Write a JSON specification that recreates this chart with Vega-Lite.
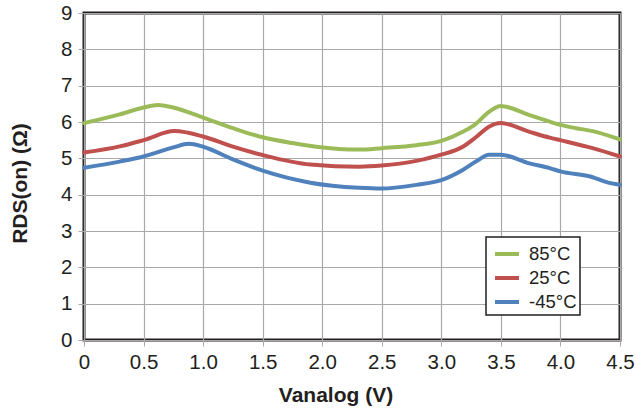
{
  "$schema": "https://vega.github.io/schema/vega-lite/v6.json",
  "width": 536,
  "height": 327,
  "autosize": "none",
  "padding": {"left": 84, "top": 13, "right": 16, "bottom": 71},
  "background": "white",
  "config": {
    "font": "Liberation Sans",
    "view": {"stroke": "#231f20", "strokeWidth": 3},
    "axis": {
      "grid": true,
      "gridColor": "#a9a9a9",
      "gridWidth": 1.2,
      "domain": false,
      "tickColor": "#a9a9a9",
      "tickSize": 6,
      "labelFont": "Liberation Sans",
      "labelFontSize": 20.5,
      "labelColor": "#231f20",
      "titleFont": "Liberation Sans",
      "titleFontSize": 21,
      "titleFontWeight": "bold",
      "titleColor": "#231f20"
    }
  },
  "data": {
    "values": [
      {"v": 0, "r": 5.97, "t": "85°C"},
      {"v": 0.3, "r": 6.21, "t": "85°C"},
      {"v": 0.5, "r": 6.4, "t": "85°C"},
      {"v": 0.62, "r": 6.47, "t": "85°C"},
      {"v": 0.75, "r": 6.4, "t": "85°C"},
      {"v": 1.0, "r": 6.12, "t": "85°C"},
      {"v": 1.25, "r": 5.83, "t": "85°C"},
      {"v": 1.5, "r": 5.58, "t": "85°C"},
      {"v": 1.75, "r": 5.42, "t": "85°C"},
      {"v": 1.95, "r": 5.32, "t": "85°C"},
      {"v": 2.31, "r": 5.24, "t": "85°C"},
      {"v": 2.5, "r": 5.28, "t": "85°C"},
      {"v": 2.79, "r": 5.36, "t": "85°C"},
      {"v": 3.0, "r": 5.48, "t": "85°C"},
      {"v": 3.18, "r": 5.73, "t": "85°C"},
      {"v": 3.29, "r": 5.95, "t": "85°C"},
      {"v": 3.4, "r": 6.28, "t": "85°C"},
      {"v": 3.5, "r": 6.44, "t": "85°C"},
      {"v": 3.74, "r": 6.19, "t": "85°C"},
      {"v": 3.91, "r": 6.01, "t": "85°C"},
      {"v": 4.0, "r": 5.92, "t": "85°C"},
      {"v": 4.13, "r": 5.83, "t": "85°C"},
      {"v": 4.27, "r": 5.75, "t": "85°C"},
      {"v": 4.5, "r": 5.52, "t": "85°C"},
      {"v": 0, "r": 5.16, "t": "25°C"},
      {"v": 0.3, "r": 5.33, "t": "25°C"},
      {"v": 0.5, "r": 5.5, "t": "25°C"},
      {"v": 0.76, "r": 5.75, "t": "25°C"},
      {"v": 1.0, "r": 5.6, "t": "25°C"},
      {"v": 1.25, "r": 5.32, "t": "25°C"},
      {"v": 1.5, "r": 5.09, "t": "25°C"},
      {"v": 1.9, "r": 4.83, "t": "25°C"},
      {"v": 2.31, "r": 4.77, "t": "25°C"},
      {"v": 2.5, "r": 4.8, "t": "25°C"},
      {"v": 2.79, "r": 4.93, "t": "25°C"},
      {"v": 3.0, "r": 5.1, "t": "25°C"},
      {"v": 3.18, "r": 5.32, "t": "25°C"},
      {"v": 3.29, "r": 5.58, "t": "25°C"},
      {"v": 3.4, "r": 5.87, "t": "25°C"},
      {"v": 3.5, "r": 5.97, "t": "25°C"},
      {"v": 3.74, "r": 5.73, "t": "25°C"},
      {"v": 3.91, "r": 5.57, "t": "25°C"},
      {"v": 4.0, "r": 5.5, "t": "25°C"},
      {"v": 4.27, "r": 5.28, "t": "25°C"},
      {"v": 4.5, "r": 5.05, "t": "25°C"},
      {"v": 0, "r": 4.74, "t": "-45°C"},
      {"v": 0.3, "r": 4.91, "t": "-45°C"},
      {"v": 0.5, "r": 5.05, "t": "-45°C"},
      {"v": 0.75, "r": 5.3, "t": "-45°C"},
      {"v": 0.88, "r": 5.4, "t": "-45°C"},
      {"v": 1.0, "r": 5.32, "t": "-45°C"},
      {"v": 1.25, "r": 4.97, "t": "-45°C"},
      {"v": 1.5, "r": 4.66, "t": "-45°C"},
      {"v": 1.9, "r": 4.33, "t": "-45°C"},
      {"v": 2.31, "r": 4.19, "t": "-45°C"},
      {"v": 2.5, "r": 4.17, "t": "-45°C"},
      {"v": 2.79, "r": 4.27, "t": "-45°C"},
      {"v": 3.0, "r": 4.4, "t": "-45°C"},
      {"v": 3.18, "r": 4.68, "t": "-45°C"},
      {"v": 3.29, "r": 4.91, "t": "-45°C"},
      {"v": 3.4, "r": 5.1, "t": "-45°C"},
      {"v": 3.5, "r": 5.1, "t": "-45°C"},
      {"v": 3.74, "r": 4.86, "t": "-45°C"},
      {"v": 3.91, "r": 4.73, "t": "-45°C"},
      {"v": 4.0, "r": 4.64, "t": "-45°C"},
      {"v": 4.27, "r": 4.48, "t": "-45°C"},
      {"v": 4.38, "r": 4.35, "t": "-45°C"},
      {"v": 4.5, "r": 4.27, "t": "-45°C"}
    ]
  },
  "mark": {"type": "line", "interpolate": "monotone", "strokeWidth": 4, "strokeCap": "round"},
  "encoding": {
    "x": {
      "field": "v",
      "type": "quantitative",
      "scale": {"domain": [0, 4.5], "nice": false, "zero": false},
      "axis": {
        "title": "Vanalog (V)",
        "values": [0, 0.5, 1, 1.5, 2, 2.5, 3, 3.5, 4, 4.5],
        "labelExpr": "datum.value === 0 ? '0' : format(datum.value, '.1f')",
        "labelPadding": 6,
        "labelFlush": false,
        "titleX": 251.5,
        "titleY": 61.5,
        "titleBaseline": "alphabetic"
      }
    },
    "y": {
      "field": "r",
      "type": "quantitative",
      "scale": {"domain": [0, 9], "nice": false},
      "axis": {
        "title": "RDS(on) (Ω)",
        "values": [0, 1, 2, 3, 4, 5, 6, 7, 8, 9],
        "labelPadding": 6,
        "labelFlush": false,
        "titleX": -58,
        "titleY": 170,
        "titleBaseline": "alphabetic"
      }
    },
    "color": {
      "field": "t",
      "type": "nominal",
      "scale": {"domain": ["85°C", "25°C", "-45°C"], "range": ["#9bbb59", "#c0504d", "#4f81bd"]},
      "legend": {
        "title": null,
        "orient": "none",
        "legendX": 402,
        "legendY": 224,
        "symbolType": "stroke",
        "symbolSize": 576,
        "symbolStrokeWidth": 4,
        "symbolOffset": 4,
        "labelFont": "Liberation Sans",
        "labelFontSize": 18.5,
        "labelColor": "#231f20",
        "labelOffset": 8,
        "labelExpr": "datum.label + '\u00a0'",
        "rowPadding": 0,
        "padding": 3,
        "fillColor": "white",
        "strokeColor": "#231f20",
        "encode": {"legend": {"update": {"strokeWidth": {"value": 1.5}}}}
      }
    }
  }
}
